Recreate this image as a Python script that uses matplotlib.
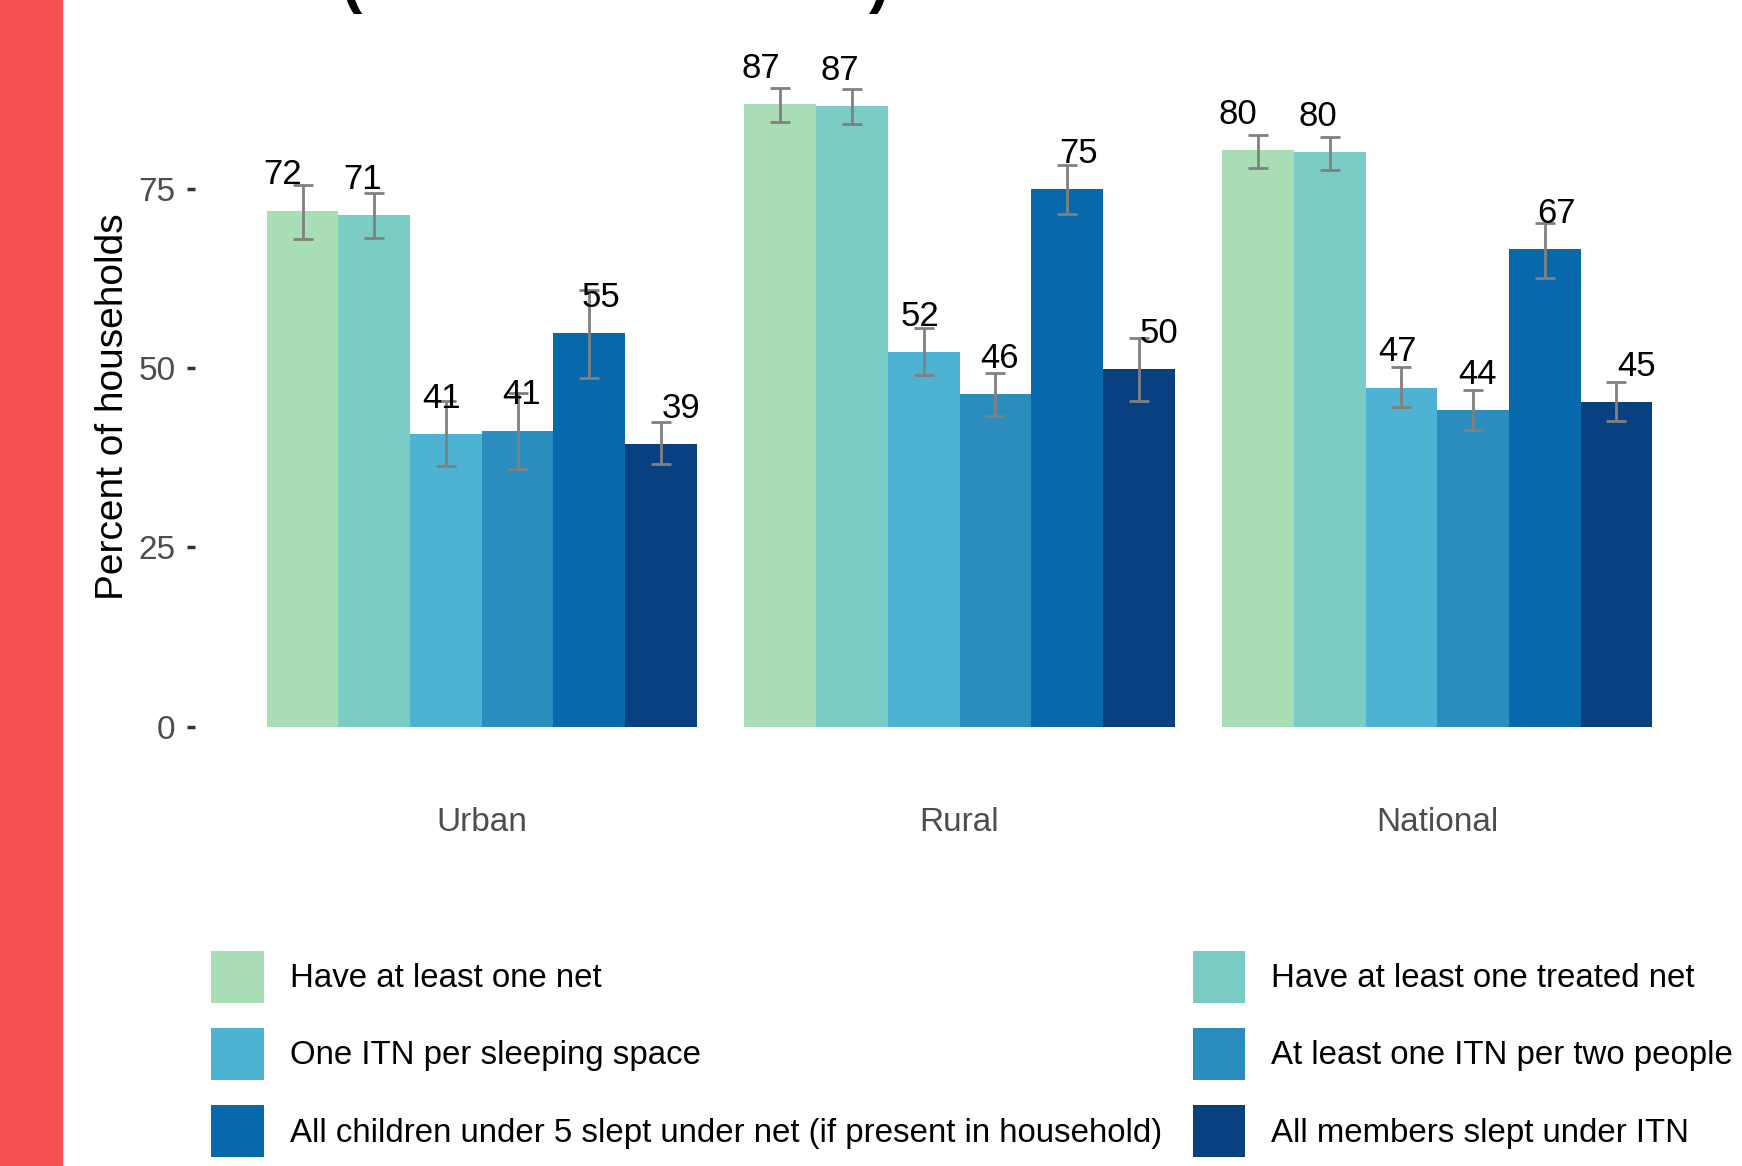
import numpy as np
import matplotlib
matplotlib.use('Agg')
import matplotlib.pyplot as plt
from matplotlib.patches import Rectangle

plt.rcParams['font.family'] = ['Liberation Sans', 'DejaVu Sans']

# data ------------------------------------------------------------
categories = ['Urban', 'Rural', 'National']
series = ['Have at least one net',
          'Have at least one treated net',
          'One ITN per sleeping space',
          'At least one ITN per two people',
          'All children under 5 slept under net (if present in household)',
          'All members slept under ITN']
colors = ['#A8DDB5', '#7BCCC4', '#4EB3D3', '#2B8CBE', '#0868AC', '#084081']

have_net = [72.0, 86.9, 80.4]
treated_net = [71.4, 86.6, 80.1]
per_sleeping_space = [40.8, 52.3, 47.3]
per_two_people = [41.3, 46.4, 44.2]
children_under5 = [54.9, 75.0, 66.6]
all_members = [39.4, 49.9, 45.3]

have_net_ci = ([68.1, 84.3, 77.9], [75.6, 89.1, 82.6])
treated_net_ci = ([68.2, 84.1, 77.7], [74.5, 88.9, 82.3])
per_sleeping_space_ci = ([36.4, 49.0, 44.6], [45.5, 55.6, 50.2])
per_two_people_ci = ([36.0, 43.3, 41.4], [46.5, 49.3, 47.0])
children_under5_ci = ([48.7, 71.5, 62.6], [60.9, 78.4, 70.3])
all_members_ci = ([36.6, 45.5, 42.6], [42.5, 54.2, 48.1])

values = [have_net, treated_net, per_sleeping_space,
          per_two_people, children_under5, all_members]
cis = [have_net_ci, treated_net_ci, per_sleeping_space_ci,
       per_two_people_ci, children_under5_ci, all_members_ci]

# figure ----------------------------------------------------------
W, H = 1742, 1166
fig = plt.figure(figsize=(W / 100, H / 100), dpi=100)
fig.patch.set_facecolor('white')

# red strip on the left
fig.add_artist(Rectangle((0, 0), 62 / W, 1, transform=fig.transFigure,
                         color='#F85050', zorder=0))

# remains of the cropped title
fig.text(342 / W, 1 - 1 / H, '(', fontsize=44, fontweight='bold',
         ha='left', va='baseline')
fig.text(889 / W, 1 - 1 / H, ')', fontsize=44, fontweight='bold',
         ha='right', va='baseline')

ax = fig.add_axes([195 / W, (H - 770) / H, 1529 / W, 710 / H])
x = np.arange(1, len(categories) + 1)
n = len(series)
bar_w = 0.9 / n
lab_w = 1.0 / n

handles = []
for i in range(n):
    xb = x + (i - (n - 1) / 2) * bar_w
    xl = x + (i - (n - 1) / 2) * lab_w
    vals = np.array(values[i])
    lo, hi = np.array(cis[i][0]), np.array(cis[i][1])
    b = ax.bar(xb, vals, width=bar_w, color=colors[i], label=series[i],
               linewidth=0, zorder=2)
    handles.append(b)
    ax.errorbar(xb, vals, yerr=[vals - lo, hi - vals], fmt='none',
                ecolor='#808080', elinewidth=2, capsize=7,
                capthick=2, zorder=3)
    for xx, v in zip(xl, vals):
        ax.text(xx, v + 3.65, f'{round(v):d}', ha='center', va='baseline',
                fontsize=25, color='black', zorder=4)

ax.set_xlim(0.4, 3.6)
ax.set_ylim(-6.04, 93.0)
ax.set_yticks([0, 25, 50, 75])
ax.set_xticks(x)
ax.set_xticklabels(categories)
ax.tick_params(axis='y', labelsize=24, labelcolor='#4D4D4D', color='#333333',
               length=6, width=2.5, pad=8)
ax.tick_params(axis='x', labelsize=24, labelcolor='#4D4D4D', length=0, pad=26.5)
for s in ax.spines.values():
    s.set_visible(False)
ax.set_ylabel('Percent of households', fontsize=28, color='black')
ax.yaxis.set_label_coords(-64 / 1529, (770 - 407) / 710)

# legend filled row by row
order = [0, 2, 4, 1, 3, 5]
fig.legend([handles[k] for k in order], [series[k] for k in order],
           ncol=2, loc='upper left',
           bbox_to_anchor=(211 / W, (H - 951) / H),
           frameon=False, fontsize=23.8, borderpad=0, borderaxespad=0,
           handlelength=1.6, handleheight=2.03, handletextpad=0.78,
           labelspacing=0.77, columnspacing=0.93)

fig.savefig('out.png', dpi=100, facecolor='white')
